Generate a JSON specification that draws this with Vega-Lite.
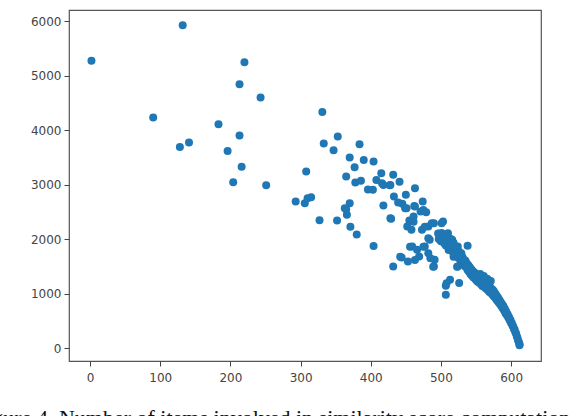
{
  "$schema": "https://vega.github.io/schema/vega-lite/v6.json",
  "width": 472,
  "height": 351,
  "autosize": {"type": "none"},
  "padding": {"left": 69, "top": 10, "right": 37, "bottom": 70},
  "title": {
    "text": "Figure 4. Number of items involved in similarity score computation",
    "orient": "bottom",
    "anchor": "start",
    "frame": "group",
    "dx": -95,
    "offset": 25,
    "font": "Liberation Serif",
    "fontSize": 22,
    "fontWeight": "normal",
    "color": "#111111"
  },
  "datasets": {
    "pts": [
      {"x": 2, "y": 5270}, {"x": 132, "y": 5920}, {"x": 90, "y": 4228}, {"x": 128, "y": 3690}, {"x": 141, "y": 3770},
      {"x": 183, "y": 4106}, {"x": 196, "y": 3617}, {"x": 204, "y": 3043}, {"x": 213, "y": 3898}, {"x": 216, "y": 3324},
      {"x": 213, "y": 4839}, {"x": 220, "y": 5242}, {"x": 243, "y": 4595}, {"x": 251, "y": 2988}, {"x": 293, "y": 2688},
      {"x": 306, "y": 2655}, {"x": 310, "y": 2746}, {"x": 315, "y": 2768}, {"x": 308, "y": 3238}, {"x": 327, "y": 2346},
      {"x": 331, "y": 4332}, {"x": 333, "y": 3751}, {"x": 347, "y": 3629}, {"x": 353, "y": 3880}, {"x": 352, "y": 2340},
      {"x": 365, "y": 3147}, {"x": 370, "y": 3495}, {"x": 377, "y": 3318}, {"x": 384, "y": 3739}, {"x": 390, "y": 3452},
      {"x": 404, "y": 3421}, {"x": 378, "y": 3037}, {"x": 386, "y": 3067}, {"x": 396, "y": 2908}, {"x": 403, "y": 2902},
      {"x": 408, "y": 3085}, {"x": 415, "y": 3208}, {"x": 416, "y": 3024}, {"x": 427, "y": 2988}, {"x": 432, "y": 3177},
      {"x": 441, "y": 3049}, {"x": 370, "y": 2658}, {"x": 365, "y": 2548}, {"x": 363, "y": 2563}, {"x": 366, "y": 2444},
      {"x": 371, "y": 2224}, {"x": 380, "y": 2083}, {"x": 404, "y": 1870}, {"x": 418, "y": 2615}, {"x": 429, "y": 2371},
      {"x": 433, "y": 2780}, {"x": 439, "y": 2670}, {"x": 445, "y": 2645}, {"x": 450, "y": 2810}, {"x": 449, "y": 2566},
      {"x": 463, "y": 2933}, {"x": 463, "y": 2597}, {"x": 455, "y": 2340}, {"x": 452, "y": 2230}, {"x": 458, "y": 2169},
      {"x": 461, "y": 2413}, {"x": 474, "y": 2688}, {"x": 471, "y": 2505}, {"x": 479, "y": 2493}, {"x": 473, "y": 2169},
      {"x": 482, "y": 2230}, {"x": 490, "y": 2291}, {"x": 503, "y": 2322}, {"x": 498, "y": 2016}, {"x": 510, "y": 2108},
      {"x": 432, "y": 1497}, {"x": 444, "y": 1662}, {"x": 453, "y": 1588}, {"x": 459, "y": 1864}, {"x": 466, "y": 1802},
      {"x": 469, "y": 1680}, {"x": 477, "y": 1864}, {"x": 482, "y": 1741}, {"x": 491, "y": 1619}, {"x": 490, "y": 1497},
      {"x": 484, "y": 1986}, {"x": 507, "y": 978}, {"x": 507, "y": 1143}, {"x": 513, "y": 1253}, {"x": 526, "y": 1191},
      {"x": 538, "y": 1876}, {"x": 524, "y": 1864}, {"x": 516, "y": 1986}, {"x": 529, "y": 1741}, {"x": 524, "y": 1497},
      {"x": 535, "y": 1558}, {"x": 540, "y": 1497}, {"x": 508, "y": 1187}, {"x": 523, "y": 1492}, {"x": 462, "y": 2606},
      {"x": 475, "y": 2532}, {"x": 451, "y": 2563}, {"x": 428, "y": 2380}, {"x": 461, "y": 2318}, {"x": 477, "y": 2226},
      {"x": 487, "y": 2288}, {"x": 501, "y": 2288}, {"x": 456, "y": 1859}, {"x": 475, "y": 1859}, {"x": 442, "y": 1675},
      {"x": 463, "y": 1615}, {"x": 485, "y": 1646}, {"x": 489, "y": 1492}, {"x": 482, "y": 2013}, {"x": 499, "y": 1982},
      {"x": 511, "y": 1798}, {"x": 518, "y": 1675}, {"x": 418, "y": 2991}, {"x": 428, "y": 2991},
      {"x": 496, "y": 2100}, {"x": 497, "y": 2000}, {"x": 499, "y": 2060}, {"x": 500, "y": 1960}, {"x": 501, "y": 2110},
      {"x": 503, "y": 1990}, {"x": 504, "y": 2060}, {"x": 505, "y": 1920}, {"x": 506, "y": 2030}, {"x": 507, "y": 1880},
      {"x": 508, "y": 1990}, {"x": 509, "y": 2090}, {"x": 510, "y": 1860}, {"x": 511, "y": 1960}, {"x": 512, "y": 1820},
      {"x": 513, "y": 1900}, {"x": 514, "y": 2000}, {"x": 515, "y": 1790}, {"x": 516, "y": 1880}, {"x": 517, "y": 1760},
      {"x": 518, "y": 1930}, {"x": 519, "y": 1820}, {"x": 520, "y": 1720}, {"x": 521, "y": 1850}, {"x": 522, "y": 1760},
      {"x": 523, "y": 1680}, {"x": 524, "y": 1800}, {"x": 525, "y": 1650}, {"x": 526, "y": 1760}, {"x": 527, "y": 1700},
      {"x": 528, "y": 1600}, {"x": 529, "y": 1720}, {"x": 530, "y": 1580}, {"x": 531, "y": 1660}, {"x": 532, "y": 1540},
      {"x": 533, "y": 1620}, {"x": 534, "y": 1500}, {"x": 535, "y": 1600}, {"x": 536, "y": 1480}, {"x": 537, "y": 1550},
      {"x": 538, "y": 1430}, {"x": 539, "y": 1520}, {"x": 540, "y": 1400}, {"x": 541, "y": 1480}, {"x": 542, "y": 1360},
      {"x": 543, "y": 1450}, {"x": 544, "y": 1330}, {"x": 545, "y": 1420}, {"x": 546, "y": 1300}, {"x": 547, "y": 1390},
      {"x": 548, "y": 1280}, {"x": 549, "y": 1370}, {"x": 550, "y": 1250}, {"x": 551, "y": 1330}, {"x": 552, "y": 1220},
      {"x": 553, "y": 1300}, {"x": 554, "y": 1200}, {"x": 555, "y": 1290}, {"x": 556, "y": 1360}, {"x": 557, "y": 1170},
      {"x": 558, "y": 1260}, {"x": 559, "y": 1140}, {"x": 560, "y": 1230}, {"x": 561, "y": 1320}, {"x": 562, "y": 1120},
      {"x": 563, "y": 1200}, {"x": 564, "y": 1090}, {"x": 565, "y": 1180}, {"x": 566, "y": 1270}, {"x": 567, "y": 1060},
      {"x": 568, "y": 1150}, {"x": 569, "y": 1030}, {"x": 570, "y": 1120}, {"x": 571, "y": 1230}, {"x": 572, "y": 1000},
      {"x": 573, "y": 1080}, {"x": 574, "y": 970}, {"x": 575, "y": 1050}, {"x": 576, "y": 940}, {"x": 577, "y": 1010},
      {"x": 578, "y": 910}, {"x": 579, "y": 970}, {"x": 580, "y": 870}, {"x": 581, "y": 930}, {"x": 582, "y": 840},
      {"x": 583, "y": 890}, {"x": 584, "y": 810}, {"x": 585, "y": 850}, {"x": 586, "y": 770}, {"x": 587, "y": 810},
      {"x": 588, "y": 730}, {"x": 589, "y": 770}, {"x": 590, "y": 690}, {"x": 591, "y": 720}, {"x": 592, "y": 640},
      {"x": 593, "y": 670}, {"x": 594, "y": 600}, {"x": 595, "y": 620}, {"x": 596, "y": 560}, {"x": 597, "y": 570},
      {"x": 598, "y": 510}, {"x": 599, "y": 520}, {"x": 600, "y": 460}, {"x": 601, "y": 460}, {"x": 602, "y": 410},
      {"x": 603, "y": 400}, {"x": 604, "y": 350}, {"x": 605, "y": 340}, {"x": 606, "y": 290}, {"x": 607, "y": 270},
      {"x": 608, "y": 220}, {"x": 609, "y": 190}, {"x": 610, "y": 140}, {"x": 611, "y": 110}, {"x": 612, "y": 70},
      {"x": 612, "y": 50}
    ]
  },
  "data": {"name": "pts"},
  "mark": {"type": "circle", "size": 64, "color": "#1f77b4", "opacity": 1},
  "encoding": {
    "x": {
      "field": "x",
      "type": "quantitative",
      "scale": {"domain": [-30, 642.6], "nice": false, "zero": false},
      "axis": {"values": [0, 100, 200, 300, 400, 500, 600], "format": "d", "title": null, "grid": false, "labelPadding": 6}
    },
    "y": {
      "field": "y",
      "type": "quantitative",
      "scale": {"domain": [-238, 6202], "nice": false, "zero": false},
      "axis": {"values": [0, 1000, 2000, 3000, 4000, 5000, 6000], "format": "d", "title": null, "grid": false, "labelPadding": 3}
    }
  },
  "config": {
    "view": {"stroke": "#555555", "strokeWidth": 1.2},
    "axis": {
      "domain": false,
      "tickColor": "#444444",
      "tickSize": 5,
      "labelFont": "DejaVu Sans",
      "labelFontSize": 12,
      "labelColor": "#444444"
    }
  }
}
